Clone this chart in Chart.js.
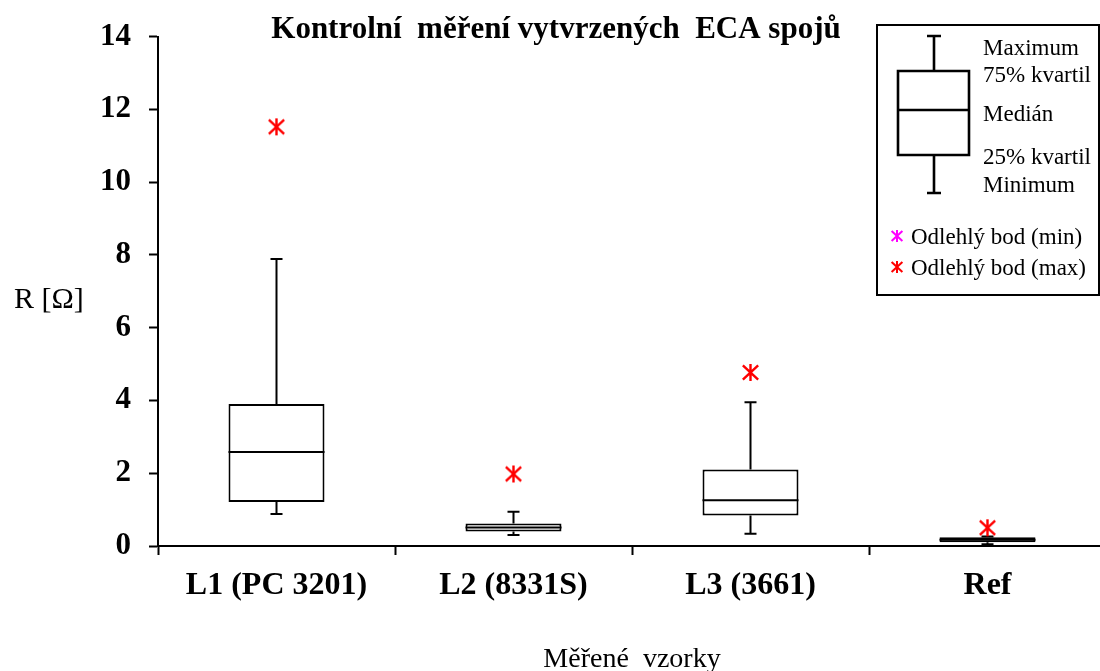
<!DOCTYPE html>
<html>
<head>
<meta charset="utf-8">
<script src="https://cdn.jsdelivr.net/npm/chart.js@4"></script>
<style>
html, body { margin: 0; padding: 0; background: #fff; overflow: hidden; }
canvas { display: block; }
</style>
</head>
<body>
<canvas id="chart" width="1117" height="671"></canvas>
<script>
var categories   = ['L1 (PC 3201)', 'L2 (8331S)', 'L3 (3661)', 'Ref']
var minValues    = [0.88, 0.30, 0.34, 0.05]
var q1Values     = [1.21, 0.40, 0.84, 0.10]
var medianValues = [2.58, 0.51, 1.26, 0.17]
var q3Values     = [3.90, 0.62, 2.10, 0.24]
var maxValues    = [7.89, 0.94, 3.95, 0.26]
var outlierMax   = [11.52, 1.98, 4.77, 0.50]
var yTicks       = [0, 2, 4, 6, 8, 10, 12, 14]

var SERIF = "'Liberation Serif', 'Times New Roman', serif"

// excel-like star marker: vertical stroke plus an X
function makeStar(color, size, lw) {
    var c = document.createElement('canvas')
    c.width = size; c.height = size
    var g = c.getContext('2d')
    var m = size / 2, r = size / 2 - 1
    g.strokeStyle = color
    g.lineWidth = lw
    g.beginPath()
    g.moveTo(m, m - r); g.lineTo(m, m + r)
    g.moveTo(m - r * 0.9, m - r * 0.85); g.lineTo(m + r * 0.9, m + r * 0.85)
    g.moveTo(m - r * 0.9, m + r * 0.85); g.lineTo(m + r * 0.9, m - r * 0.85)
    g.stroke()
    return c
}
var redStar = makeStar('#ff0000', 19, 2.4)

var boxParts = {
    id: 'boxParts',
    afterDatasetDraw: function(chart, args) {
        if (args.index !== 0) return
        var ctx = chart.ctx, y = chart.scales.y
        ctx.save()
        ctx.strokeStyle = '#000'
        ctx.lineWidth = 2
        args.meta.data.forEach(function(bar, i) {
            var x = bar.x, half = bar.width / 2
            var yMed = y.getPixelForValue(medianValues[i])
            var yQ1 = y.getPixelForValue(q1Values[i])
            var yQ3 = y.getPixelForValue(q3Values[i])
            var yMin = y.getPixelForValue(minValues[i])
            var yMax = y.getPixelForValue(maxValues[i])
            ctx.beginPath()
            ctx.moveTo(x - half, yMed); ctx.lineTo(x + half, yMed)
            ctx.moveTo(x, yQ3); ctx.lineTo(x, yMax)
            ctx.moveTo(x - 6, yMax); ctx.lineTo(x + 6, yMax)
            ctx.moveTo(x, yQ1); ctx.lineTo(x, yMin)
            ctx.moveTo(x - 6, yMin); ctx.lineTo(x + 6, yMin)
            ctx.stroke()
        })
        ctx.restore()
    }
}

var extras = {
    id: 'extras',
    afterDraw: function(chart) {
        var ctx = chart.ctx, area = chart.chartArea
        ctx.save()
        ctx.fillStyle = '#000'
        ctx.textBaseline = 'alphabetic'

        // title
        ctx.font = 'bold 31px ' + SERIF
        ctx.textAlign = 'center'
        ctx.fillText('Kontrolní  měření vytvrzených  ECA spojů', 556, 38)

        // y axis label, horizontal
        ctx.font = '30px ' + SERIF
        ctx.textAlign = 'left'
        ctx.fillText('R [Ω]', 14, (area.top + area.bottom) / 2 + 17)

        // legend box
        ctx.strokeStyle = '#000'
        ctx.lineWidth = 2
        ctx.strokeRect(877, 25, 222, 270)

        ctx.lineWidth = 2.6
        ctx.beginPath()
        ctx.moveTo(934, 36); ctx.lineTo(934, 71)
        ctx.moveTo(927, 36); ctx.lineTo(941, 36)
        ctx.rect(898, 71, 71, 84)
        ctx.moveTo(898, 110); ctx.lineTo(969, 110)
        ctx.moveTo(934, 155); ctx.lineTo(934, 193)
        ctx.moveTo(927, 193); ctx.lineTo(941, 193)
        ctx.stroke()

        ctx.font = '23px ' + SERIF
        ctx.fillText('Maximum', 983, 55)
        ctx.fillText('75% kvartil', 983, 82)
        ctx.fillText('Medián', 983, 121)
        ctx.fillText('25% kvartil', 983, 164)
        ctx.fillText('Minimum', 983, 192)

        var mStar = makeStar('#ff00ff', 14, 2)
        var rStar = makeStar('#ff0000', 14, 2)
        ctx.drawImage(mStar, 890, 229)
        ctx.drawImage(rStar, 890, 260)
        ctx.fillText('Odlehlý bod (min)', 911, 244)
        ctx.fillText('Odlehlý bod (max)', 911, 275)
        ctx.restore()
    }
}

var boxData = categories.map(function(c, i) { return [q1Values[i], q3Values[i]] })

new Chart(document.getElementById('chart'), {
    data: {
        labels: categories,
        datasets: [
            {
                type: 'bar',
                data: boxData,
                backgroundColor: '#fff',
                borderColor: '#000',
                borderWidth: 2,
                borderSkipped: false,
                categoryPercentage: 1,
                barPercentage: 0.405,
                order: 0
            },
            {
                type: 'line',
                data: outlierMax,
                showLine: false,
                pointStyle: redStar,
                pointRadius: 10,
                order: -1
            }
        ]
    },
    options: {
        responsive: false,
        animation: false,
        layout: { padding: { top: 16, right: 4, left: 0, bottom: 0 } },
        plugins: {
            legend: { display: false },
            tooltip: { enabled: false },
            title: { display: false }
        },
        scales: {
            x: {
                offset: true,
                grid: { display: true, drawOnChartArea: false, offset: true, tickLength: 9, tickWidth: 2, tickColor: '#000' },
                border: { display: true, color: '#000', width: 2 },
                ticks: {
                    color: '#000',
                    font: { family: SERIF, size: 32, weight: 'bold' },
                    padding: 12,
                    maxRotation: 0,
                    autoSkip: false
                },
                title: {
                    display: true,
                    text: 'Měřené  vzorky',
                    color: '#000',
                    font: { family: SERIF, size: 28 },
                    padding: { top: 0, bottom: -5 }
                },
                afterFit: function(s) { s.height = 125 }
            },
            y: {
                min: 0,
                max: 14,
                afterBuildTicks: function(s) { s.ticks = yTicks.map(function(v) { return { value: v } }) },
                grid: { drawOnChartArea: false, tickLength: 9, tickWidth: 2, tickColor: '#000' },
                border: { color: '#000', width: 2 },
                ticks: {
                    color: '#000',
                    font: { family: SERIF, size: 31, weight: 'bold' },
                    padding: 18
                },
                afterFit: function(s) { s.width = 158 }
            }
        }
    },
    plugins: [boxParts, extras]
})
</script>
</body>
</html>
